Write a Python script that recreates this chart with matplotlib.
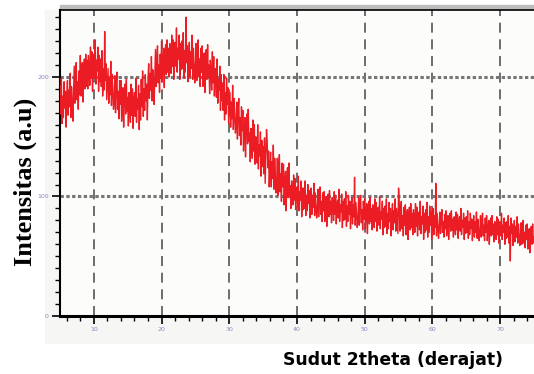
import numpy as np
import matplotlib.pyplot as plt
from matplotlib.patches import Rectangle
from matplotlib.ticker import MultipleLocator

# Pola XRD: intensitas, tiap 0.1 derajat mulai 5 derajat
# satu baris = 2 derajat
intensitas = [
    192, 169, 199, 161, 184, 166, 196, 174, 188, 158, 184, 197, 168, 189, 175, 203, 166, 192, 179, 163,  # 5
    187, 209, 178, 201, 212, 181, 196, 173, 205, 185, 218, 184, 201, 212, 179, 207, 215, 190, 219, 192,  # 7
    214, 190, 218, 208, 193, 225, 199, 221, 188, 211, 219, 199, 231, 194, 214, 205, 225, 188, 218, 196,  # 9
    215, 192, 222, 184, 207, 189, 238, 197, 211, 181, 194, 207, 178, 199, 185, 213, 176, 202, 189, 173,  # 11
    179, 201, 170, 193, 204, 173, 188, 165, 197, 177, 197, 163, 180, 191, 158, 186, 194, 169, 198, 171,  # 13
    183, 159, 187, 177, 162, 194, 168, 190, 157, 180, 187, 167, 199, 162, 182, 173, 193, 156, 186, 164,  # 15
    198, 175, 205, 167, 190, 172, 202, 180, 194, 164, 198, 211, 182, 203, 189, 217, 180, 206, 193, 177,  # 17
    201, 223, 192, 215, 226, 195, 210, 187, 219, 199, 230, 196, 213, 224, 191, 219, 227, 202, 231, 204,  # 19
    224, 200, 228, 218, 203, 235, 209, 231, 198, 221, 229, 209, 241, 204, 224, 215, 235, 198, 228, 206,  # 21
    230, 207, 237, 199, 222, 204, 250, 212, 226, 196, 216, 229, 200, 221, 207, 235, 198, 224, 211, 195,  # 23
    206, 228, 197, 220, 231, 200, 215, 192, 224, 204, 226, 192, 209, 220, 187, 215, 223, 198, 227, 200,  # 25
    210, 186, 214, 204, 189, 221, 195, 217, 184, 207, 203, 183, 215, 178, 198, 189, 209, 172, 202, 180,  # 27
    195, 172, 202, 164, 187, 169, 199, 177, 191, 161, 174, 187, 158, 179, 165, 193, 156, 182, 169, 153,  # 29
    157, 179, 148, 171, 182, 151, 166, 143, 175, 155, 172, 138, 155, 166, 133, 161, 169, 144, 173, 146,  # 31
    153, 129, 157, 147, 132, 164, 138, 160, 127, 150, 148, 128, 160, 123, 143, 134, 154, 117, 147, 125,  # 33
    142, 119, 149, 111, 134, 156, 146, 124, 138, 108, 124, 137, 108, 129, 115, 143, 106, 132, 119, 103,  # 35
    110, 132, 101, 124, 135, 104, 119, 96, 128, 108, 127, 93, 110, 121, 88, 116, 124, 99, 128, 101,  # 37
    109, 90, 113, 105, 93, 118, 97, 115, 89, 107, 108, 92, 117, 88, 104, 97, 113, 83, 107, 89,  # 39
    107, 90, 113, 84, 101, 88, 110, 94, 105, 82, 97, 107, 85, 101, 91, 111, 84, 103, 93, 82,  # 41
    89, 106, 83, 100, 108, 85, 96, 79, 103, 88, 104, 79, 92, 100, 75, 96, 102, 83, 105, 85,  # 43
    96, 78, 99, 92, 80, 104, 85, 101, 77, 94, 97, 82, 106, 79, 93, 87, 102, 74, 96, 80,  # 45
    98, 81, 104, 75, 92, 79, 101, 85, 96, 73, 89, 99, 77, 93, 83, 116, 76, 95, 85, 74,  # 47
    82, 99, 76, 93, 101, 78, 89, 72, 96, 81, 98, 73, 86, 94, 69, 90, 96, 77, 99, 79,  # 49
    90, 72, 93, 86, 74, 98, 79, 95, 71, 88, 91, 76, 100, 73, 87, 81, 96, 68, 90, 74,  # 51
    92, 75, 98, 69, 86, 73, 95, 79, 90, 67, 84, 94, 72, 88, 78, 98, 71, 90, 80, 69,  # 53
    107, 94, 71, 88, 96, 73, 84, 67, 91, 76, 93, 68, 81, 89, 64, 85, 91, 72, 94, 74,  # 55
    86, 68, 89, 82, 70, 94, 75, 91, 67, 84, 87, 72, 96, 69, 83, 77, 92, 64, 86, 70,  # 57
    89, 72, 95, 66, 83, 70, 92, 76, 87, 64, 80, 90, 68, 84, 74, 111, 67, 86, 76, 65,  # 59
    74, 87, 69, 82, 89, 70, 79, 66, 85, 73, 88, 67, 78, 84, 64, 81, 86, 71, 88, 72,  # 61
    81, 66, 83, 77, 68, 87, 72, 85, 65, 79, 83, 71, 90, 68, 80, 74, 86, 64, 82, 69,  # 63
    83, 70, 88, 65, 79, 68, 86, 73, 81, 63, 76, 84, 66, 79, 70, 87, 65, 81, 73, 63,  # 65
    71, 84, 66, 79, 86, 67, 76, 63, 82, 70, 84, 63, 74, 80, 60, 77, 82, 67, 84, 68,  # 67
    77, 62, 79, 73, 64, 83, 68, 81, 61, 75, 79, 67, 86, 64, 76, 70, 82, 60, 78, 65,  # 69
    79, 66, 84, 61, 75, 46, 82, 69, 77, 59, 72, 80, 62, 75, 66, 83, 61, 77, 69, 59,  # 71
    65, 78, 60, 73, 80, 61, 70, 57, 76, 64, 77, 56, 67, 73, 53, 70, 75, 60, 77, 61,  # 73
    66,
]
sudut_awal = 5.0
langkah = 0.1
sudut = sudut_awal + langkah * np.arange(len(intensitas))

xticks = [10, 20, 30, 40, 50, 60, 70]
yticks = [0, 100, 200]

fig = plt.figure(figsize=(5.34, 3.74), dpi=100)
W, H = 534, 374

# panel abu-abu tipis di belakang plot
fig.patches.append(Rectangle((45 / W, (H - 343) / H), 1, (343 - 10) / H,
                             transform=fig.transFigure, color='#f6f6f5', zorder=-2))
# bar abu-abu di atas plot
fig.patches.append(Rectangle((60 / W, (H - 9) / H), 1, 4 / H,
                             transform=fig.transFigure, color='#bdbdbd', zorder=-1))

ax = fig.add_axes([60 / W, 58 / H, 474 / W, 306 / H])
ax.set_zorder(2)
ax.set_facecolor('#fcfcfb')

ax.plot(sudut, intensitas, color='#ec1c24', lw=1.0, zorder=3)

ax.set_xlim(5, 75)
ax.set_ylim(0, 256)

for x in xticks:
    ax.axvline(x, color='#555555', lw=1.2, dashes=(6, 4), zorder=1)
for y in yticks[1:]:
    ax.axhline(y, color='#777777', lw=2.2, dashes=(1.1, 0.8), zorder=1)

ax.set_xticks(xticks)
ax.set_yticks(yticks)
ax.xaxis.set_minor_locator(MultipleLocator(2))
ax.yaxis.set_minor_locator(MultipleLocator(10))
ax.tick_params(axis='both', which='major', direction='out', length=6, width=1.2,
               labelsize=4.5, labelcolor='#8c86c4', pad=2)
ax.tick_params(axis='both', which='minor', direction='out', length=3.5, width=1)

ax.spines['right'].set_visible(False)
ax.spines['bottom'].set_linewidth(2.2)
ax.spines['left'].set_linewidth(1.5)
ax.spines['top'].set_linewidth(1.2)

fig.text(393 / W, 14 / H, 'Sudut 2theta (derajat)', ha='center', va='center',
         fontsize=12.4, fontweight='bold', family='DejaVu Sans')
fig.text(25 / W, (H - 182) / H, 'Intensitas (a.u)', ha='center', va='center',
         rotation=90, fontsize=19, fontweight='bold', family='Liberation Serif')

fig.savefig('out.png', dpi=100)
